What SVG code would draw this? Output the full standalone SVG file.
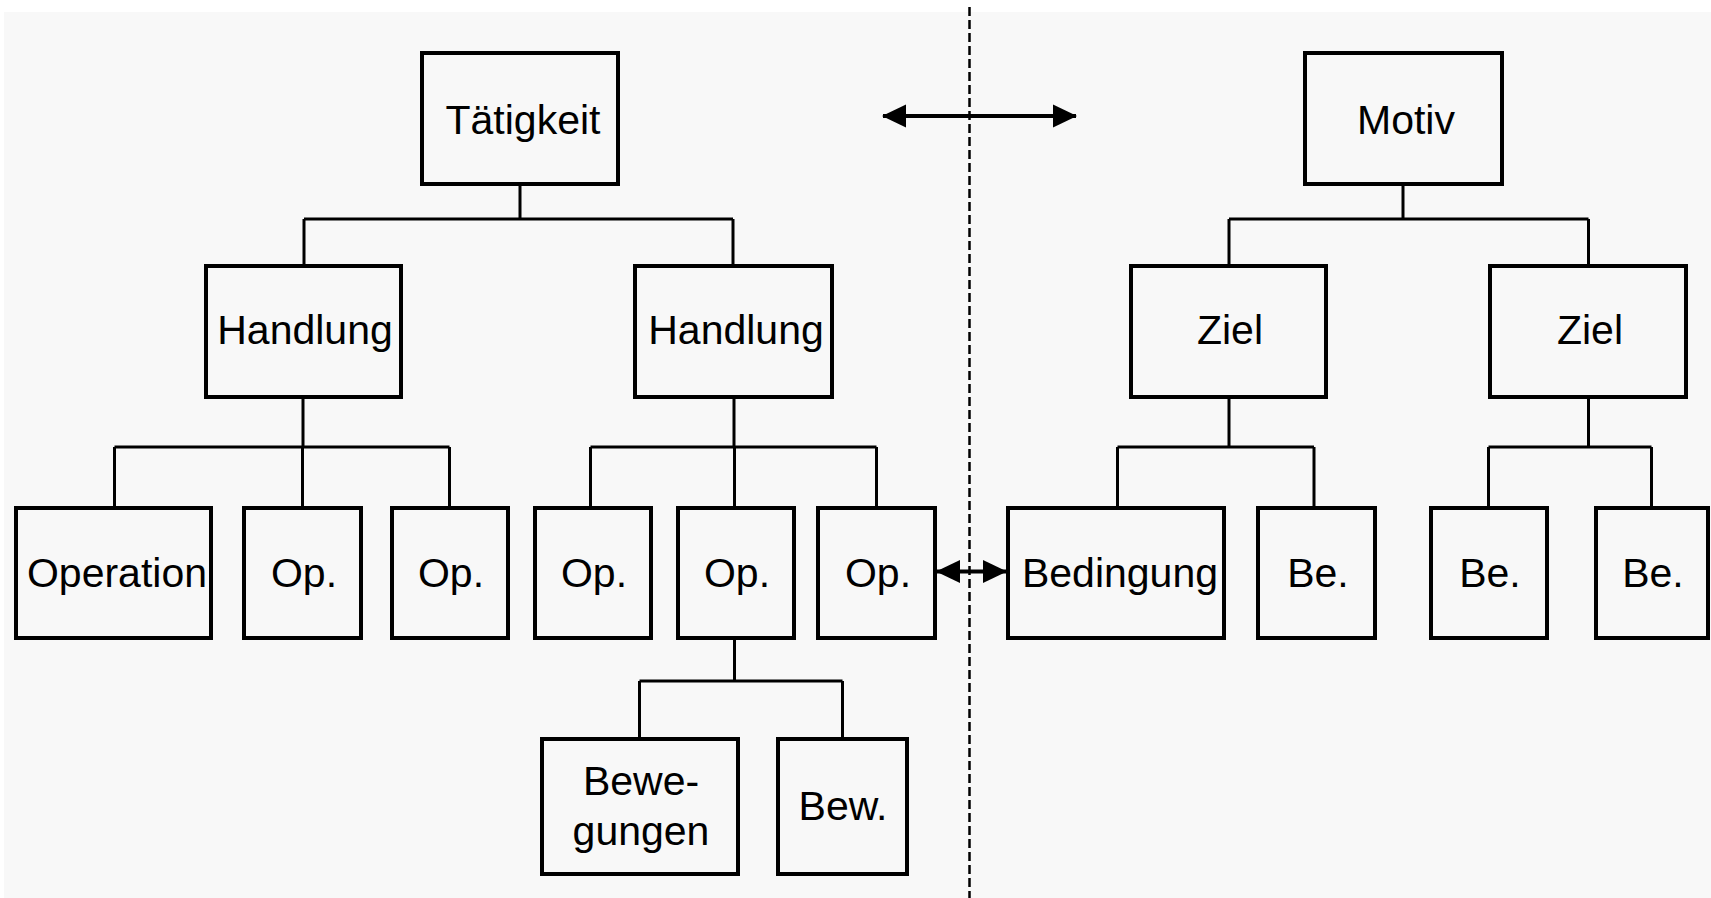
<svg xmlns="http://www.w3.org/2000/svg" width="1711" height="898" viewBox="0 0 1711 898">
<defs>
<style>
.box{fill:none;stroke:#000;stroke-width:4}
.lbl{font-family:"Liberation Sans",Arial,sans-serif;font-size:41px;fill:#000;text-anchor:middle}
.con{fill:none;stroke:#000;stroke-width:3}
.arr{fill:none;stroke:#000;stroke-width:3.8}
.dash{fill:none;stroke:#000;stroke-width:2.5;stroke-dasharray:9 4}
</style>
<marker id="ah" viewBox="0 0 24 24" refX="23" refY="12" markerWidth="24" markerHeight="24" markerUnits="userSpaceOnUse" orient="auto-start-reverse">
<path d="M0,0.5 L24,12 L0,23.5 z" fill="#000"/>
</marker>
</defs>
<rect x="0" y="0" width="1711" height="898" fill="#fff"/>
<rect x="4" y="12" width="1707" height="886" fill="#f8f8f8"/>

<g id="connectors">
<path class="con" d="M520,184 V219 M304,219 H733 M304,219 V266 M733,219 V266"/>
<path class="con" d="M303,397 V447 M114.5,447 H449.5 M114.5,447 V508 M302.5,447 V508 M449.5,447 V508"/>
<path class="con" d="M734,397 V447 M590.5,447 H876.5 M590.5,447 V508 M734.5,447 V508 M876.5,447 V508"/>
<path class="con" d="M734.5,638 V681 M639.5,681 H842.5 M639.5,681 V739 M842.5,681 V739"/>
<path class="con" d="M1403,184 V219 M1229,219 H1588.5 M1229,219 V266 M1588.5,219 V266"/>
<path class="con" d="M1229,397 V447 M1117.5,447 H1314 M1117.5,447 V508 M1314,447 V508"/>
<path class="con" d="M1588.5,397 V447 M1488.5,447 H1651.5 M1488.5,447 V508 M1651.5,447 V508"/>
<path class="dash" d="M969.5,7 V898"/>
<path class="arr" d="M883,116 H1076" marker-start="url(#ah)" marker-end="url(#ah)"/>
<path class="arr" d="M937,571.5 H1006" marker-start="url(#ah)" marker-end="url(#ah)"/>
</g>

<g id="n-taetigkeit"><rect class="box" x="422" y="53" width="196" height="131"/><text class="lbl" x="523" y="134">Tätigkeit</text></g>
<g id="n-motiv"><rect class="box" x="1305" y="53" width="197" height="131"/><text class="lbl" x="1406" y="134">Motiv</text></g>

<g id="n-handlung1"><rect class="box" x="206" y="266" width="195" height="131"/><text class="lbl" x="305" y="344">Handlung</text></g>
<g id="n-handlung2"><rect class="box" x="635" y="266" width="197" height="131"/><text class="lbl" x="736" y="344">Handlung</text></g>
<g id="n-ziel1"><rect class="box" x="1131" y="266" width="195" height="131"/><text class="lbl" x="1230" y="344">Ziel</text></g>
<g id="n-ziel2"><rect class="box" x="1490" y="266" width="196" height="131"/><text class="lbl" x="1590" y="344">Ziel</text></g>

<g id="n-operation"><rect class="box" x="16" y="508" width="195" height="130"/><text class="lbl" x="117" y="587">Operation</text></g>
<g id="n-op1"><rect class="box" x="244" y="508" width="117" height="130"/><text class="lbl" x="304" y="587">Op.</text></g>
<g id="n-op2"><rect class="box" x="392" y="508" width="116" height="130"/><text class="lbl" x="451" y="587">Op.</text></g>
<g id="n-op3"><rect class="box" x="535" y="508" width="116" height="130"/><text class="lbl" x="594" y="587">Op.</text></g>
<g id="n-op4"><rect class="box" x="678" y="508" width="116" height="130"/><text class="lbl" x="737" y="587">Op.</text></g>
<g id="n-op5"><rect class="box" x="818" y="508" width="117" height="130"/><text class="lbl" x="878" y="587">Op.</text></g>
<g id="n-bedingung"><rect class="box" x="1008" y="508" width="216" height="130"/><text class="lbl" x="1120" y="587">Bedingung</text></g>
<g id="n-be1"><rect class="box" x="1258" y="508" width="117" height="130"/><text class="lbl" x="1318" y="587">Be.</text></g>
<g id="n-be2"><rect class="box" x="1431" y="508" width="116" height="130"/><text class="lbl" x="1490" y="587">Be.</text></g>
<g id="n-be3"><rect class="box" x="1596" y="508" width="112" height="130"/><text class="lbl" x="1653" y="587">Be.</text></g>

<g id="n-bewegungen"><rect class="box" x="542" y="739" width="196" height="135"/><text class="lbl" x="641" y="795">Bewe-</text><text class="lbl" x="641" y="845">gungen</text></g>
<g id="n-bew"><rect class="box" x="778" y="739" width="129" height="135"/><text class="lbl" x="843" y="820">Bew.</text></g>
</svg>
